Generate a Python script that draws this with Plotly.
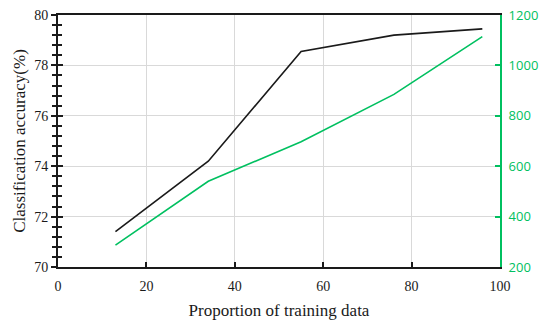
import plotly.graph_objects as go

proportion = [13, 34, 55, 76, 96]
accuracy = [71.4, 74.2, 78.55, 79.2, 79.45]
time_cost = [287, 540, 697, 885, 1114]

x_ticks = [0, 20, 40, 60, 80, 100]
left_ticks = [70, 72, 74, 76, 78, 80]
right_ticks = [200, 400, 600, 800, 1000, 1200]

BLACK = "#1a1a1a"
GREEN = "#00c060"
serif = "Liberation Serif"

fig = go.Figure()
fig.add_trace(go.Scatter(x=proportion, y=accuracy, mode="lines",
                         line=dict(color=BLACK, width=1.6), yaxis="y", showlegend=False))
fig.add_trace(go.Scatter(x=proportion, y=time_cost, mode="lines",
                         line=dict(color=GREEN, width=1.6), yaxis="y2", showlegend=False))
fig.add_trace(go.Scatter(x=[None], y=[None], yaxis="y3", showlegend=False, hoverinfo="skip"))

fig.update_layout(
    width=550, height=329,
    margin=dict(l=58, r=50, t=15, b=62),
    paper_bgcolor="white", plot_bgcolor="white",
    xaxis=dict(range=[0, 100], tickvals=x_ticks, ticks="inside", ticklen=5,
               tickcolor=BLACK, tickwidth=1.5, automargin=False, ticklabelstandoff=5,
               showline=True, linecolor=BLACK, linewidth=2, mirror=True,
               showgrid=True, gridcolor="#d9d9d9", gridwidth=1, zeroline=False,
               tickfont=dict(family=serif, size=14, color=BLACK),
               title=dict(text="Proportion of training data", standoff=11,
                          font=dict(family=serif, size=17, color=BLACK))),
    yaxis=dict(range=[70, 80], tickvals=left_ticks, ticks="outside", ticklen=5,
               tickcolor=BLACK, tickwidth=1.5, automargin=False,
               minor=dict(dtick=0.4, ticks="outside", ticklen=4, tickcolor=BLACK, tickwidth=1.5, showgrid=False),
               showline=True, linecolor=BLACK, linewidth=2,
               showgrid=True, gridcolor="#d9d9d9", gridwidth=1, zeroline=False,
               tickfont=dict(family=serif, size=14, color=BLACK),
               title=dict(text="Classification accuracy(%)", standoff=4,
                          font=dict(family=serif, size=17, color=BLACK))),
    yaxis3=dict(range=[70, 80], overlaying="y", side="left", tickvals=left_ticks,
                ticks="inside", ticklen=5, tickcolor=BLACK, tickwidth=1.5, automargin=False,
                minor=dict(dtick=0.4, ticks="inside", ticklen=4, tickcolor=BLACK, tickwidth=1.5, showgrid=False),
                showticklabels=False, showgrid=False, zeroline=False, showline=False),
    yaxis2=dict(range=[200, 1200], tickvals=right_ticks, overlaying="y", side="right",
                ticks="inside", ticklen=5, tickcolor=GREEN, tickwidth=1.5, automargin=False,
                ticklabelstandoff=4,
                showline=True, linecolor=GREEN, linewidth=2,
                showgrid=False, zeroline=False,
                tickfont=dict(family="Open Sans", size=13, color=GREEN)),
)

fig.write_html("out.html", config={"displayModeBar": False},
               post_script="document.body.style.margin='0';")
